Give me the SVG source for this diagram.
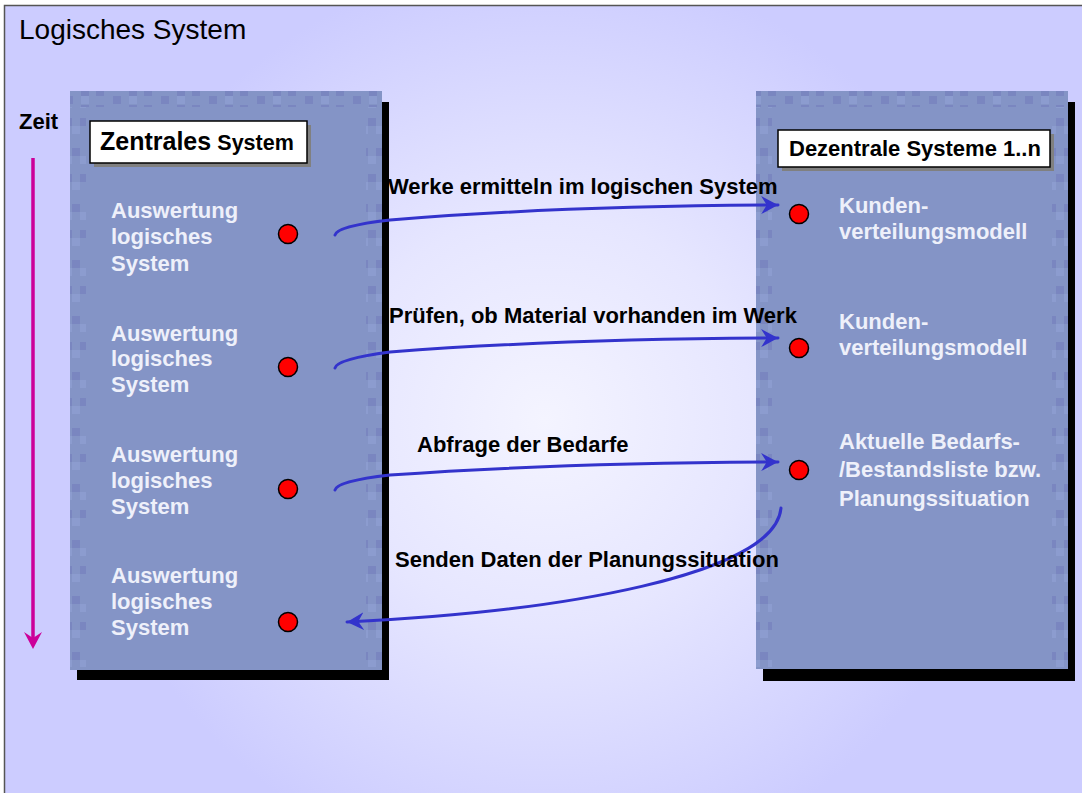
<svg xmlns="http://www.w3.org/2000/svg" width="1082" height="793" viewBox="0 0 1082 793">
<style>
.b{font-family:"Liberation Sans",Arial,sans-serif;font-weight:bold;font-size:22px;fill:#000}
.w{font-family:"Liberation Sans",Arial,sans-serif;font-weight:bold;font-size:22px;fill:#EEF0FA}
.panel{fill:#8494C6}
.shadow{fill:#000}
.dot{fill:#FF0000;stroke:#000;stroke-width:1.5}
.conn{fill:none;stroke:#3333CC;stroke-width:3;stroke-linecap:round}
.d{fill:#7A86C0}
.l{fill:#8C9CCF}
</style>
<defs>
<radialGradient id="bg" gradientUnits="userSpaceOnUse" cx="545" cy="420" r="460">
<stop offset="0" stop-color="#F4F4FF"/>
<stop offset="0.45" stop-color="#E6E6FF"/>
<stop offset="1" stop-color="#CCCCFF"/>
</radialGradient>
<pattern id="chkH" patternUnits="userSpaceOnUse" width="48" height="16">
<rect x="17" y="0" width="8" height="8" class="d"/>
<rect x="33" y="0" width="8" height="8" class="l"/>
<rect x="0" y="9" width="8" height="7" class="d"/>
<rect x="33" y="9" width="8" height="7" class="d"/>
</pattern>
<pattern id="chkV" patternUnits="userSpaceOnUse" width="16" height="56">
<rect x="0" y="6" width="8" height="8" class="d"/>
<rect x="8" y="14" width="8" height="8" class="l"/>
<rect x="8" y="36" width="8" height="8" class="d"/>
<rect x="0" y="44" width="8" height="8" class="l"/>
</pattern>
<marker id="ah" markerUnits="userSpaceOnUse" markerWidth="18" markerHeight="18" viewBox="0 0 16 16" refX="15" refY="8" orient="auto">
<path d="M0,0 L15,8 L0,16 L5,8 z" fill="#3333CC"/>
</marker>
</defs>
<rect x="0" y="0" width="1082" height="793" fill="#FFFFFF"/>
<rect x="5" y="6" width="1077" height="787" fill="url(#bg)"/>
<path d="M4.5,793 L4.5,5.5 L1082,5.5" fill="none" stroke="#555555" stroke-width="1.5"/>
<text x="19" y="39" font-family="'Liberation Sans',Arial,sans-serif" font-size="28" fill="#000">Logisches System</text>
<g id="zeit">
<text x="19" y="129" class="b" font-size="21">Zeit</text>
<line x1="33" y1="158" x2="33" y2="638" stroke="#CC0099" stroke-width="3.5"/>
<path d="M33,649 L24,632 L33,638 L42,632 z" fill="#CC0099"/>
</g>
<g id="zentral">
<rect x="77" y="102" width="312" height="578" class="shadow"/>
<rect x="70" y="91" width="312" height="579" class="panel"/>
<rect x="70" y="91" width="312" height="16" fill="url(#chkH)"/>
<rect x="70" y="107" width="16" height="560" fill="url(#chkV)"/>
<rect x="366" y="107" width="16" height="560" fill="url(#chkV)"/>
<rect x="94" y="125" width="217" height="42" fill="#808080"/>
<rect x="90" y="121" width="217" height="42" fill="#FFFFFF" stroke="#000" stroke-width="1.5"/>
<text x="100" y="150" class="b"><tspan font-size="25">Zentrales</tspan> <tspan font-size="21.5">System</tspan></text>
</g>
<g id="z1">
<text class="w"><tspan x="111" y="218">Auswertung</tspan><tspan x="111" y="244">logisches</tspan><tspan x="111" y="271">System</tspan></text>
<circle cx="288" cy="234" r="9.5" class="dot"/>
</g>
<g id="z2">
<text class="w"><tspan x="111" y="341">Auswertung</tspan><tspan x="111" y="366">logisches</tspan><tspan x="111" y="392">System</tspan></text>
<circle cx="288" cy="367" r="9.5" class="dot"/>
</g>
<g id="z3">
<text class="w"><tspan x="111" y="462">Auswertung</tspan><tspan x="111" y="488">logisches</tspan><tspan x="111" y="514">System</tspan></text>
<circle cx="288" cy="489" r="9.5" class="dot"/>
</g>
<g id="z4">
<text class="w"><tspan x="111" y="583">Auswertung</tspan><tspan x="111" y="609">logisches</tspan><tspan x="111" y="635">System</tspan></text>
<circle cx="288" cy="622" r="9.5" class="dot"/>
</g>
<g id="dezentral">
<rect x="763" y="102" width="312" height="579" class="shadow"/>
<rect x="756" y="91" width="312" height="578" class="panel"/>
<rect x="756" y="91" width="312" height="16" fill="url(#chkH)"/>
<rect x="756" y="107" width="16" height="560" fill="url(#chkV)"/>
<rect x="1052" y="107" width="16" height="560" fill="url(#chkV)"/>
<rect x="782" y="134" width="272" height="37" fill="#808080"/>
<rect x="778" y="130" width="272" height="37" fill="#FFFFFF" stroke="#000" stroke-width="1.5"/>
<text x="789" y="156" class="b" font-size="21.5">Dezentrale Systeme 1..n</text>
</g>
<g id="d1">
<text class="w"><tspan x="839" y="213">Kunden-</tspan><tspan x="839" y="239">verteilungsmodell</tspan></text>
<circle cx="799" cy="214" r="9.5" class="dot"/>
</g>
<g id="d2">
<text class="w"><tspan x="839" y="329">Kunden-</tspan><tspan x="839" y="355">verteilungsmodell</tspan></text>
<circle cx="799" cy="348" r="9.5" class="dot"/>
</g>
<g id="d3">
<text class="w"><tspan x="839" y="449">Aktuelle Bedarfs-</tspan><tspan x="839" y="477">/Bestandsliste bzw.</tspan><tspan x="839" y="506">Planungssituation</tspan></text>
<circle cx="799" cy="470" r="9.5" class="dot"/>
</g>
<g id="connectors">
<path class="conn" marker-end="url(#ah)" d="M335,235 Q337,226 390,220 Q560,206 778,205"/>
<path class="conn" marker-end="url(#ah)" d="M335,368 Q337,359 390,352 Q560,339 778,338"/>
<path class="conn" marker-end="url(#ah)" d="M335,490 Q337,481 390,475 Q560,463 778,462"/>
<path class="conn" marker-end="url(#ah)" d="M781,508 C775,575 560,612 347,622"/>
<text x="388" y="194" class="b">Werke ermitteln im logischen System</text>
<text x="389" y="323" class="b">Prüfen, ob Material vorhanden im Werk</text>
<text x="417" y="452" class="b">Abfrage der Bedarfe</text>
<text x="395" y="567" class="b">Senden Daten der Planungssituation</text>
</g>
</svg>
